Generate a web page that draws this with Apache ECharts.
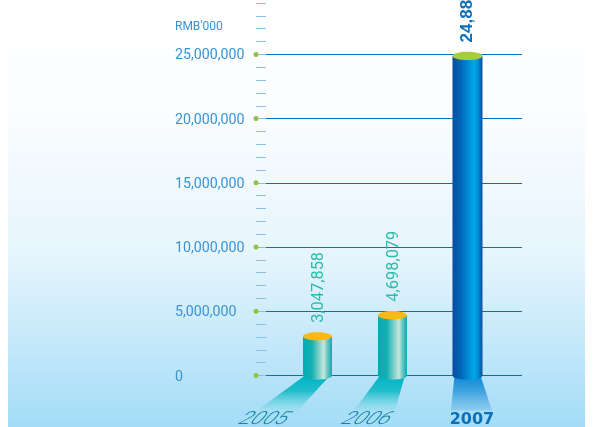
<!DOCTYPE html>
<html>
<head>
<meta charset="utf-8">
<style>html,body{margin:0;padding:0;background:#fff}#chart{width:593px;height:427px}</style>
<script src="https://cdn.jsdelivr.net/npm/echarts@6/dist/echarts.min.js"></script>
</head>
<body>
<div id="chart"></div>
<script>
// Profit by year, RMB'000
const years = [2005, 2006, 2007];
const profit = [3047858, 4698079, 24880000];
const majorTicks = [0, 5000000, 10000000, 15000000, 20000000, 25000000];
const unitLabel = "RMB'000";

const AXIS_MIN_X = 2004.18, AXIS_MAX_X = 2007.727;

const teal = ['#00adb1', '#12b0b2', '#c8e6dd', '#6fc6c3', '#00adb3'];
const blue = ['#0a4c9f', '#0069bb', '#00a8e8', '#0090d6', '#0a4c9f'];
const bodyStops = [0, 0.3, 0.72, 0.84, 1];

function bodyFill(cols) {
  return new echarts.graphic.LinearGradient(0, 0, 1, 0,
    cols.map((color, i) => ({ offset: bodyStops[i], color })));
}
function shadowFill(top, mid, bottom) {
  return new echarts.graphic.LinearGradient(0, 0, 0, 1,
    [{ offset: 0, color: top }, { offset: 0.45, color: mid }, { offset: 1, color: bottom }]);
}

function renderCylinder(params, api) {
  const year = api.value(0), value = api.value(1);
  const latest = params.dataIndex === years.length - 1;
  const [cx, top] = api.coord([year, value]);
  const base = api.coord([year, 0])[1];
  const halfW = latest ? 15 : 14.5;
  const ry = 4.2;
  const floorY = base + 35;
  // The floor reflection fans out towards the viewer from the last column
  const lastX = api.coord([years[years.length - 1], 0])[0];
  const floorX = lastX + 4 + (cx - lastX) * 1.293;
  const floorHalf = 20.5;
  const labelX = lastX + 2 + (cx - lastX) * 1.37;
  const cols = latest ? blue : teal;
  return {
    type: 'group',
    children: [
      { type: 'polygon',
        shape: { points: [[cx - halfW + 2, base], [cx + halfW - 2, base],
                          [floorX + floorHalf, floorY], [floorX - floorHalf, floorY]] },
        style: { fill: latest ? shadowFill('#0a8ad2', '#3fa3e0', 'rgba(120,190,235,0.6)')
                              : shadowFill('#00b4c4', '#22bdcc', 'rgba(150,222,236,0.45)') } },
      { type: 'rect', shape: { x: cx - halfW, y: top, width: halfW * 2, height: base - top },
        style: { fill: bodyFill(cols) } },
      { type: 'ellipse', shape: { cx, cy: base, rx: halfW, ry },
        style: { fill: bodyFill(cols) } },
      { type: 'ellipse', shape: { cx, cy: top, rx: halfW, ry },
        style: { fill: latest ? '#a6ce39' : '#fdb913' } },
      { type: 'text', x: latest ? cx : cx + 1, y: top - 13.5, rotation: Math.PI / 2,
        style: { text: value.toLocaleString('en-US'),
                 fill: latest ? '#0b70b9' : '#2cbcaa',
                 font: latest ? 'bold 17px "Liberation Sans"' : '400 16.4px Roboto',
                 align: 'left', verticalAlign: 'middle' } },
      latest
        ? { type: 'text', x: cx + 4.5, y: floorY + 9,
            style: { text: String(year), fill: '#0b70b9', font: 'bold 16px "DejaVu Sans"',
                     align: 'center', verticalAlign: 'middle' } }
        : { type: 'text', x: labelX, y: floorY + 9, skewX: -0.6, scaleX: 1.22,
            style: { text: String(year), fill: '#1283a3', font: 'italic 300 18px Roboto',
                     align: 'center', verticalAlign: 'middle' } }
    ]
  };
}

const chart = echarts.init(document.getElementById('chart'), null, { renderer: 'canvas' });
chart.setOption({
  animation: false,
  graphic: [
    { type: 'rect', z: -10, silent: true,
      shape: { x: 8, y: 0, width: 577, height: 427 },
      style: { fill: new echarts.graphic.LinearGradient(0, 0, 0, 1, [
        { offset: 0, color: '#ffffff' },
        { offset: 0.25, color: '#fbfdff' },
        { offset: 0.6, color: '#e6f5fd' },
        { offset: 1, color: '#a3dcf7' }]) } },
    { type: 'text', x: 175, y: 26.5, silent: true,
      style: { text: unitLabel, fill: '#3a92d2', font: '400 12px Roboto',
               align: 'left', verticalAlign: 'middle' } }
  ],
  grid: { left: 256, right: 71, top: 3, bottom: 51.5 },
  xAxis: { type: 'value', min: AXIS_MIN_X, max: AXIS_MAX_X, show: false },
  yAxis: [
    { type: 'value', min: 0, max: 29000000, interval: 5000000,
      axisLine: { show: false }, axisTick: { show: false },
      axisLabel: { align: 'left', verticalAlign: 'top', lineHeight: 3, margin: 81,
                   color: '#3a92d2', fontFamily: 'Roboto', fontWeight: 400, fontSize: 14.2,
                   showMaxLabel: false,
                   formatter: v => v.toLocaleString('en-US') },
      splitLine: { show: true, showMaxLine: false, lineStyle: { color: '#0b70b9', width: 1 } } },
    { type: 'value', min: 0, max: 29000000, interval: 1000000, position: 'left',
      axisLine: { show: false },
      axisTick: { show: true, inside: true, length: 10, lineStyle: { color: '#8cbfe4', width: 1 } },
      axisLabel: { show: false }, splitLine: { show: false } }
  ],
  series: [
    { type: 'scatter', yAxisIndex: 0, symbol: 'circle', symbolSize: 5, clip: false, z: 3,
      itemStyle: { color: '#8fc63f', opacity: 1 }, silent: true,
      data: majorTicks.map(v => [AXIS_MIN_X, v]) },
    { type: 'custom', yAxisIndex: 0, clip: false, z: 4, silent: true,
      renderItem: renderCylinder,
      data: years.map((y, i) => [y, profit[i]]) }
  ]
});
</script>
</body>
</html>
